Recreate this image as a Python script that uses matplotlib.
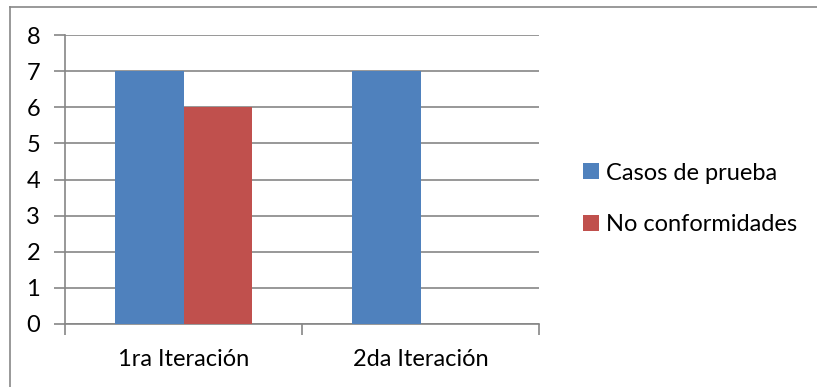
import matplotlib.pyplot as plt
import numpy as np
from matplotlib.lines import Line2D

plt.rcParams["font.family"] = ["Lato", "DejaVu Sans"]

iteraciones = ["1ra Iteración", "2da Iteración"]
casos_prueba = [7, 7]
no_conformidades = [6, 0]
series_names = ["Casos de prueba", "No conformidades"]

W, H = 817, 387
fig = plt.figure(figsize=(W / 100, H / 100), dpi=100)

# outer chart border (only left and top edges are in frame)
bx, by = 9.5 / W, 1 - 6.5 / H
fig.add_artist(Line2D([bx, bx], [0, by], transform=fig.transFigure,
                      color="#878787", linewidth=1.2))
fig.add_artist(Line2D([bx, 1], [by, by], transform=fig.transFigure,
                      color="#878787", linewidth=1.2))

ax = fig.add_axes([65 / W, 1 - 324 / H, (539 - 65) / W, (324 - 35) / H])

x = np.arange(len(iteraciones))
width = 0.287
ax.bar(x - width / 2, casos_prueba, width, color="#4F81BD", label=series_names[0], zorder=3)
ax.bar(x + width / 2, no_conformidades, width, color="#C0504D", label=series_names[1], zorder=3)

ax.set_xlim(-0.5, 1.5)
ax.set_ylim(0, 8)
ax.set_yticks(range(0, 9))
ax.yaxis.grid(True, color="#868686", linewidth=1.2)
ax.set_axisbelow(True)

for side in ["top", "right"]:
    ax.spines[side].set_visible(False)
for side in ["left", "bottom"]:
    ax.spines[side].set_color("#868686")
    ax.spines[side].set_linewidth(1.2)

# category ticks sit on the boundaries between groups
ax.set_xticks([-0.5, 0.5, 1.5])
ax.set_xticklabels([])
ax.set_xticks(x, minor=True)
ax.set_xticklabels(iteraciones, minor=True)
ax.tick_params(axis="x", which="major", length=8, width=1.2, color="#868686")
ax.tick_params(axis="x", which="minor", length=0, pad=18, labelsize=17)
ax.tick_params(axis="y", length=8, width=1.2, color="#868686", pad=10, labelsize=17)

ax.legend(loc="center left", bbox_to_anchor=(1.049, 0.4325), frameon=False,
          fontsize=17, handlelength=0.65, handleheight=0.65, handletextpad=0.3,
          labelspacing=1.3)

fig.savefig("out.png", dpi=100)
